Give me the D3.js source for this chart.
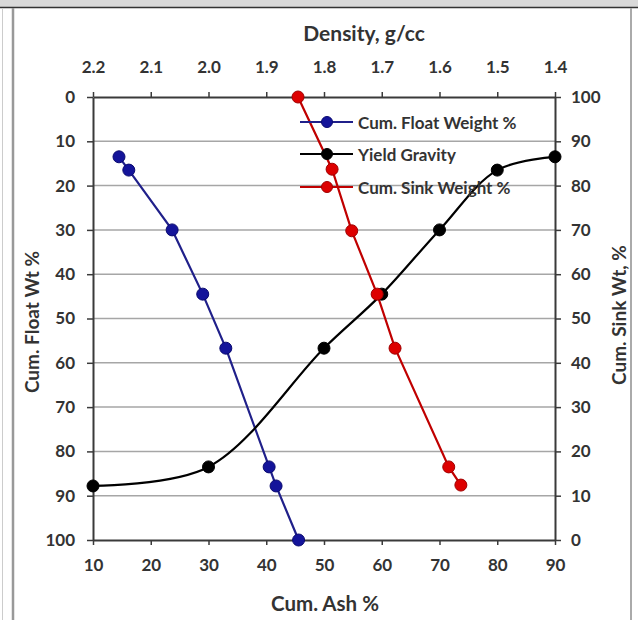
<!DOCTYPE html>
<html><head><meta charset="utf-8">
<script src="https://cdn.jsdelivr.net/npm/d3@7"></script>
<style>body{margin:0;background:#fff}svg{display:block}</style>
</head><body>
<script>
// ---- data ----
const floatAsh = [14.5, 16.2, 23.7, 29.0, 33.0, 40.5, 41.7, 45.6];
const floatWt  = [13.5, 16.5, 30.0, 44.5, 56.7, 83.5, 87.8, 100];
const yieldDensity = [2.2, 2.0, 1.8, 1.7, 1.6, 1.5, 1.4];
const yieldWt      = [87.8, 83.5, 56.7, 44.5, 30.0, 16.5, 13.5];
const sinkAsh = [45.5, 51.4, 54.8, 59.2, 62.3, 71.6, 73.7];
const sinkWt  = [100, 83.7, 69.8, 55.5, 43.3, 16.5, 12.4];
const ashTicks = [10,20,30,40,50,60,70,80,90];
const densityTicks = [2.2,2.1,2.0,1.9,1.8,1.7,1.6,1.5,1.4];
const leftTicks = [0,10,20,30,40,50,60,70,80,90,100];
const rightTicks = [0,10,20,30,40,50,60,70,80,90,100];
const seriesNames = ["Cum. Float Weight %", "Yield Gravity", "Cum. Sink Weight %"];

const W = 638, H = 620;
const L = 93, R = 555, T = 97, B = 540;
const FONT = "Lato, 'Open Sans', sans-serif";
const TXT = "#333";

const svg = d3.select("body").append("svg").attr("width", W).attr("height", H);

// frame
svg.append("rect").attr("x",0).attr("y",0).attr("width",W).attr("height",7).attr("fill","#d9d9d9");
svg.append("line").attr("x1",0).attr("x2",W).attr("y1",7.5).attr("y2",7.5).attr("stroke","#333").attr("stroke-width",1.5);
svg.append("line").attr("x1",2.5).attr("x2",2.5).attr("y1",8).attr("y2",H).attr("stroke","#ccc").attr("stroke-width",1);
svg.append("line").attr("x1",13).attr("x2",13).attr("y1",8).attr("y2",H).attr("stroke","#999").attr("stroke-width",2.5);
svg.append("line").attr("x1",631).attr("x2",631).attr("y1",8).attr("y2",H).attr("stroke","#aaa").attr("stroke-width",2);

const x = d3.scaleLinear().domain([10,90]).range([L,R]);
const xd = d3.scaleLinear().domain([2.2,1.4]).range([L,R]);
const yl = d3.scaleLinear().domain([0,100]).range([T,B]);
const yr = d3.scaleLinear().domain([100,0]).range([T,B]);

// gridlines
svg.append("g").selectAll("line").data(leftTicks.filter(d=>d>0&&d<100)).join("line")
  .attr("x1",L).attr("x2",R).attr("y1",d=>yl(d)).attr("y2",d=>yl(d))
  .attr("stroke","#a6a6a6").attr("stroke-width",1.5);

function styleAxis(g){
  g.attr("font-size",17);
  g.select(".domain").attr("stroke","#3a3a3a").attr("stroke-width",2);
  g.selectAll(".tick line").attr("stroke","#3a3a3a").attr("stroke-width",1.5);
  g.selectAll(".tick text").attr("fill",TXT).attr("font-family",FONT).attr("font-weight","bold").style("font-size","17px");
}
svg.append("g").attr("transform",`translate(0,${B})`)
  .call(d3.axisBottom(x).tickValues(ashTicks).tickSize(5).tickPadding(14).tickSizeOuter(0)).call(styleAxis);
svg.append("g").attr("transform",`translate(0,${T})`)
  .call(d3.axisTop(xd).tickValues(densityTicks).tickFormat(d3.format(".1f")).tickSize(5).tickPadding(19).tickSizeOuter(0)).call(styleAxis);
svg.append("g").attr("transform",`translate(${L},0)`)
  .call(d3.axisLeft(yl).tickValues(leftTicks).tickSize(6).tickPadding(12).tickSizeOuter(0)).call(styleAxis);
svg.append("g").attr("transform",`translate(${R},0)`)
  .call(d3.axisRight(yr).tickValues(rightTicks).tickSize(6).tickPadding(10).tickSizeOuter(0)).call(styleAxis);

// titles
function title(txt, tx, ty, rot, size){
  svg.append("text").attr("transform",`translate(${tx},${ty}) rotate(${rot||0})`)
    .attr("text-anchor","middle").attr("dominant-baseline","central")
    .attr("font-family",FONT).attr("font-weight","bold").attr("font-size",size).attr("fill",TXT).text(txt);
}
title("Density, g/cc", 364, 32, 0, 21);
title("Cum. Ash %", 325, 603, 0, 20.5);
title("Cum. Float Wt %", 31, 322, -90, 19);
title("Cum. Sink Wt, %", 618, 315, -90, 19);

// series
const floatData = floatAsh.map((a,i)=>({x:x(a), y:yl(floatWt[i])}));
const yieldData = yieldDensity.map((d,i)=>({x:xd(d), y:yl(yieldWt[i])}));
const sinkData = sinkAsh.map((a,i)=>({x:x(a), y:yr(sinkWt[i])}));

const series = [
  {data: floatData, line:"#20208a", fill:"#14149a", stroke:"#0a0a70", curve:d3.curveLinear},
  {data: yieldData, line:"#000", fill:"#000", stroke:"#000", curve:d3.curveCatmullRom.alpha(0.5)},
  {data: sinkData, line:"#c00000", fill:"#dd0000", stroke:"#a00000", curve:d3.curveLinear}
];
series.forEach(s=>{
  svg.append("path").attr("d", d3.line().x(d=>d.x).y(d=>d.y).curve(s.curve)(s.data))
    .attr("fill","none").attr("stroke",s.line).attr("stroke-width",2.2);
});
series.forEach(s=>{
  svg.append("g").selectAll("circle").data(s.data).join("circle")
    .attr("cx",d=>d.x).attr("cy",d=>d.y).attr("r",6)
    .attr("fill",s.fill).attr("stroke",s.stroke).attr("stroke-width",1);
});

// legend
const legY = [122, 154, 187];
series.forEach((s,i)=>{
  const g = svg.append("g");
  g.append("line").attr("x1",300).attr("x2",353).attr("y1",legY[i]).attr("y2",legY[i])
    .attr("stroke",s.line).attr("stroke-width",2.2);
  g.append("circle").attr("cx",327).attr("cy",legY[i]).attr("r",5.5).attr("fill",s.fill).attr("stroke",s.stroke);
  g.append("text").attr("x",358).attr("y",legY[i]).attr("dominant-baseline","central")
    .attr("font-family",FONT).attr("font-weight","bold").attr("font-size",17).attr("fill",TXT).text(seriesNames[i]);
});
</script>
</body></html>
